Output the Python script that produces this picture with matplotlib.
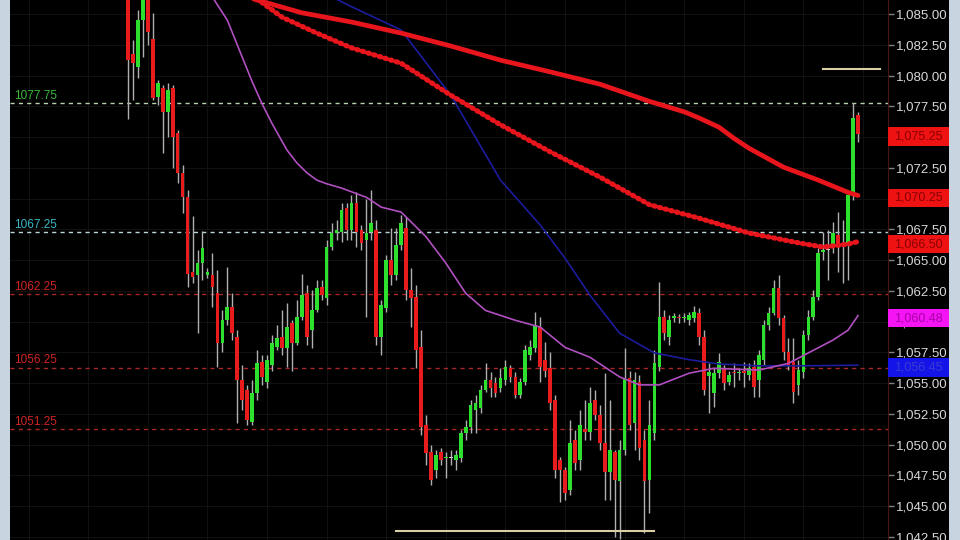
import matplotlib
matplotlib.use('Agg')
import matplotlib.pyplot as plt
import matplotlib.transforms as mtransforms
from matplotlib.patches import Rectangle
from matplotlib.ticker import FuncFormatter, MultipleLocator
import numpy as np

plt.rcParams['font.family'] = ['Liberation Sans', 'DejaVu Sans']

# candle data (one value per bar)
opens = [1087.75, 1081.75, 1080.7, 1084.5, 1086.5, 1083.0, 1078.25, 1079.0, 1077.0, 1079.0,
         1075.3, 1072.1, 1070.1, 1064.0, 1063.8, 1064.75, 1063.8, 1063.8, 1062.3, 1058.25,
         1060.1, 1061.2, 1058.75, 1055.25, 1054.4, 1051.8, 1054.2, 1056.7, 1055.1, 1056.5,
         1057.9, 1058.75, 1057.85, 1059.9, 1058.25, 1060.4, 1062.3, 1059.3, 1060.9, 1062.8,
         1061.9, 1066.05, 1067.2, 1067.3, 1069.25, 1067.45, 1069.65, 1067.45, 1066.6, 1067.3,
         1067.45, 1058.75, 1061.1, 1065.0, 1063.8, 1066.2, 1067.6, 1062.55, 1062.0, 1057.9,
         1051.6, 1049.4, 1047.9, 1049.4, 1048.9, 1048.9, 1048.75, 1048.9, 1050.9, 1051.4,
         1052.8, 1053.0, 1054.4, 1055.25, 1055.0, 1054.6, 1055.25, 1056.2, 1055.5, 1054.0,
         1055.1, 1057.3, 1057.85, 1059.55, 1056.9, 1056.2, 1053.6, 1048.75, 1047.9, 1046.3,
         1050.4, 1048.75, 1051.3, 1051.0, 1053.6, 1052.4, 1050.1, 1047.75, 1049.4, 1047.0,
         1049.55, 1055.4, 1051.75, 1055.1, 1050.4, 1047.1, 1050.9, 1056.3, 1060.35, 1058.75,
         1060.3, 1060.3, 1060.25, 1060.1, 1060.3, 1060.7, 1058.75, 1055.6, 1054.2, 1055.8,
         1056.2, 1055.1, 1055.9, 1055.8, 1055.9, 1055.65, 1056.3, 1055.25, 1056.9, 1059.7,
         1060.7, 1062.7, 1060.3, 1057.5, 1056.7, 1054.85, 1055.9, 1058.9, 1060.35, 1062.0,
         1065.65, 1065.8, 1066.2, 1067.0, 1066.4, 1066.4, 1070.3, 1076.8]
highs = [1089.5, 1082.9, 1085.3, 1087.75, 1087.75, 1085.1, 1079.6, 1079.2, 1079.4, 1079.2,
         1075.6, 1072.7, 1070.7, 1068.6, 1065.8, 1067.4, 1064.35, 1065.6, 1064.2, 1060.9,
         1064.4, 1062.3, 1059.3, 1056.5, 1054.85, 1055.25, 1057.7, 1057.3, 1057.3, 1058.9,
         1059.7, 1060.9, 1061.5, 1060.1, 1061.75, 1063.9, 1063.0, 1062.55, 1063.4, 1063.4,
         1066.6, 1068.0, 1068.25, 1069.65, 1069.65, 1070.3, 1070.5, 1067.85, 1070.0, 1070.7,
         1068.25, 1061.75, 1065.4, 1067.6, 1067.6, 1068.65, 1068.5, 1064.35, 1063.0, 1059.3,
         1052.4, 1050.0, 1049.55, 1049.7, 1049.4, 1049.55, 1049.55, 1051.2, 1052.0, 1053.6,
         1054.0, 1054.85, 1056.6, 1055.9, 1055.5, 1056.2, 1056.9, 1056.5, 1055.9, 1055.4,
         1058.1, 1058.5, 1060.8, 1060.35, 1058.3, 1057.5, 1054.0, 1049.0, 1048.2, 1052.0,
         1051.2, 1052.8, 1053.6, 1054.7, 1054.4, 1053.2, 1055.8, 1053.6, 1049.55, 1050.4,
         1057.85, 1056.0, 1055.9, 1055.65, 1051.2, 1053.6, 1057.7, 1063.2, 1060.9, 1060.5,
         1060.7, 1060.6, 1060.7, 1060.8, 1061.25, 1061.1, 1059.3, 1056.6, 1056.2, 1057.45,
         1056.5, 1056.0, 1056.6, 1056.2, 1056.7, 1056.6, 1056.9, 1057.7, 1060.1, 1061.2,
         1063.4, 1063.8, 1060.5, 1058.65, 1058.65, 1056.9, 1059.3, 1060.9, 1062.55, 1066.0,
         1067.3, 1067.45, 1068.1, 1068.9, 1068.25, 1070.7, 1077.75, 1077.0]
lows = [1076.5, 1078.0, 1079.8, 1081.5, 1082.5, 1078.0, 1077.6, 1073.7, 1075.0, 1072.5,
        1071.3, 1068.8, 1062.8, 1063.1, 1059.1, 1063.4, 1063.5, 1061.2, 1056.3, 1057.5,
        1059.7, 1058.5, 1051.75, 1052.8, 1051.6, 1051.6, 1053.6, 1054.85, 1054.6, 1056.0,
        1057.7, 1057.3, 1056.3, 1056.0, 1058.1, 1060.1, 1058.1, 1057.85, 1060.8, 1061.75,
        1061.35, 1065.8, 1066.6, 1066.5, 1066.6, 1066.6, 1066.05, 1065.8, 1060.35, 1066.6,
        1058.1, 1057.3, 1060.8, 1063.0, 1063.4, 1065.8, 1061.75, 1059.55, 1056.2, 1050.8,
        1048.3, 1046.7, 1047.3, 1048.35, 1047.3, 1048.35, 1047.9, 1048.6, 1050.4, 1050.9,
        1050.9, 1052.6, 1054.25, 1053.85, 1053.85, 1054.25, 1054.85, 1055.1, 1053.8, 1053.8,
        1054.85, 1056.9, 1057.5, 1055.1, 1055.5, 1052.8, 1047.3, 1045.3, 1045.5, 1045.9,
        1047.9, 1047.9, 1050.4, 1050.4, 1052.0, 1049.55, 1045.5, 1045.5, 1042.5, 1042.3,
        1049.15, 1051.2, 1049.55, 1048.75, 1042.8, 1044.4, 1050.4, 1056.0, 1058.5, 1058.1,
        1060.0, 1059.9, 1060.0, 1059.7, 1060.0, 1058.1, 1054.0, 1052.55, 1053.05, 1055.4,
        1054.4, 1054.85, 1054.7, 1055.25, 1054.7, 1055.25, 1053.85, 1053.85, 1056.5, 1059.3,
        1060.5, 1059.7, 1056.9, 1056.05, 1053.4, 1054.0, 1055.4, 1058.5, 1060.1, 1061.75,
        1065.0, 1063.4, 1065.55, 1064.0, 1063.1, 1063.4, 1069.9, 1074.6]
closes = [1081.25, 1081.0, 1084.5, 1086.5, 1083.5, 1078.2, 1079.4, 1077.0, 1078.8, 1075.0,
          1072.1, 1070.1, 1063.9, 1063.6, 1064.75, 1066.0, 1064.0, 1062.8, 1058.25, 1060.1,
          1061.2, 1059.1, 1055.25, 1053.6, 1052.0, 1054.2, 1056.6, 1055.5, 1056.9, 1058.25,
          1058.7, 1057.85, 1059.55, 1058.25, 1060.4, 1062.15, 1058.75, 1060.9, 1062.7, 1062.15,
          1066.05, 1067.2, 1067.45, 1069.1, 1067.45, 1069.65, 1067.3, 1066.4, 1067.2, 1068.0,
          1058.75, 1061.35, 1065.0, 1063.8, 1066.2, 1068.0, 1062.55, 1061.9, 1057.7, 1051.4,
          1049.3, 1047.1, 1049.15, 1048.75, 1049.0, 1048.9, 1049.15, 1050.9, 1051.4, 1053.2,
          1053.4, 1054.4, 1055.25, 1054.6, 1054.2, 1055.4, 1056.3, 1055.5, 1054.0, 1055.1,
          1057.7, 1057.9, 1059.7, 1056.3, 1056.0, 1053.4, 1047.9, 1047.9, 1046.05, 1050.1,
          1048.5, 1051.6, 1051.0, 1053.4, 1052.4, 1050.1, 1047.75, 1049.55, 1047.1, 1049.55,
          1055.4, 1051.6, 1055.25, 1049.7, 1047.0, 1051.6, 1056.6, 1060.35, 1059.05, 1060.1,
          1060.35, 1060.25, 1060.35, 1060.5, 1060.8, 1058.75, 1054.4, 1055.9, 1055.8, 1056.7,
          1055.0, 1055.65, 1055.8, 1055.9, 1055.85, 1056.2, 1054.7, 1057.3, 1059.7, 1060.7,
          1062.7, 1060.3, 1057.5, 1056.5, 1054.25, 1056.05, 1058.9, 1060.35, 1062.0, 1065.55,
          1065.8, 1065.8, 1067.2, 1066.4, 1066.2, 1070.3, 1076.55, 1075.25]

# moving averages (bar index, value)
slow_ma_x = [22, 35, 45, 55, 65, 75, 85, 95, 105, 112, 115, 119, 122, 125, 132, 139, 145, 147]
slow_ma = [1086.6, 1085.1, 1084.35, 1083.45, 1082.4, 1081.25, 1080.3, 1079.3, 1077.9,
           1077.05, 1076.55, 1075.8, 1074.9, 1074.1, 1072.55, 1071.5, 1070.5, 1070.25]
mid_ma_x = [24, 31, 38, 45, 55, 65, 75, 85, 95, 105, 115, 125, 135, 140, 145, 147]
mid_ma = [1086.8, 1084.75, 1083.45, 1082.25, 1081.0, 1078.4, 1076.0, 1073.8, 1071.75,
          1069.5, 1068.4, 1067.2, 1066.4, 1066.05, 1066.3, 1066.5]
blue_ma_x = [40, 45, 55, 65, 75, 83, 88, 93, 99, 106, 113, 119, 127, 135, 147]
blue_ma = [1086.6, 1085.6, 1083.7, 1078.4, 1071.5, 1067.85, 1065.15, 1062.15, 1059.05,
           1057.45, 1056.9, 1056.55, 1056.4, 1056.4, 1056.45]
fast_ma_x = [16, 20, 22, 25, 27, 29, 32, 34, 36, 38, 40, 43, 48, 51, 55, 60, 64, 68, 72,
             78, 83, 88, 93, 99, 103, 107, 113, 118, 127, 133, 137, 142, 145, 147]
fast_ma = [1087.0, 1084.5, 1082.5, 1079.5, 1077.7, 1076.1, 1073.95, 1072.9, 1072.1, 1071.5,
           1071.2, 1070.85, 1070.1, 1069.3, 1068.9, 1066.9, 1064.75, 1062.3, 1060.9,
           1060.1, 1059.55, 1057.9, 1057.1, 1055.5, 1054.85, 1054.85, 1055.8, 1056.2,
           1056.05, 1056.6, 1057.45, 1058.5, 1059.3, 1060.48]

# horizontal levels drawn on the chart
levels = [1077.75, 1067.25, 1062.25, 1056.25, 1051.25]
level_labels = ['1077.75', '1067.25', '1062.25', '1056.25', '1051.25']
level_line_colors = ['#b8d0b0', '#b8d4d8', '#a82828', '#a82828', '#a82828']
level_text_colors = ['#3cbc3c', '#3cb8c8', '#d02424', '#d02424', '#d02424']

# last value boxes on the price scale
box_values = [1075.25, 1070.25, 1066.50, 1060.48, 1056.45]
box_faces = ['#ee1212', '#ee1212', '#ee1212', '#f414f4', '#1414e8']
box_texts = ['#8c0000', '#8c0000', '#8c0000', '#a800a8', '#3a3ad0']

# manual trend lines (start bar, end bar, price)
seg_start = [140, 54]
seg_end = [151.4, 106]
seg_price = [1080.5, 1043.0]

fig = plt.figure(figsize=(9.6, 5.4), dpi=100, facecolor='black')
ax = fig.add_axes([10 / 960, 0, 878 / 960, 1], facecolor='black')

o = np.array(opens)
h = np.array(highs)
l = np.array(lows)
c = np.array(closes)
idx = np.arange(len(c))

ax.vlines(idx, l, h, color='#b0b0b0', lw=1, zorder=3)
colors = np.where(c > o, '#2ee02e', np.where(c < o, '#e81c1c', '#d0d0d0'))
ax.bar(idx, np.maximum(np.abs(c - o), 0.12), bottom=np.minimum(o, c), width=0.74,
       color=colors, linewidth=0, zorder=4)

blend = mtransforms.blended_transform_factory(ax.transAxes, ax.transData)
for p, lc, tc, lab in zip(levels, level_line_colors, level_text_colors, level_labels):
    ax.axhline(p, color=lc, lw=1, ls=(0, (3, 3)), zorder=2)
    ax.text(0.005, p + 0.35, lab, color=tc, fontsize=8.5, transform=blend)

ax.plot(blue_ma_x, blue_ma, color='#1c1c9c', lw=1.2, zorder=5)
ax.plot(fast_ma_x, fast_ma, color='#b050c0', lw=1.2, zorder=5)
ax.plot(slow_ma_x, slow_ma, color='#e8161c', lw=3.4, zorder=6, solid_capstyle='round',
        solid_joinstyle='round')
ax.plot(mid_ma_x, mid_ma, color='#e8161c', lw=3.7, ls=(0, (0.3, 0.85)),
        dash_capstyle='round', zorder=6)

for s, e, p in zip(seg_start, seg_end, seg_price):
    ax.plot([s, e], [p, p], color='#d8d0a4', lw=1.5, zorder=5)

ax.set_xlim(-23.76, 153.04)
ax.set_ylim(1042.24, 1086.14)

ax.yaxis.tick_right()
ax.yaxis.set_major_locator(MultipleLocator(2.5))
ax.yaxis.set_major_formatter(FuncFormatter(lambda v, pos: f'{v:,.2f}'))
ax.tick_params(axis='y', colors='#808080', labelcolor='#d8d8d8', labelsize=9.5,
               length=4, width=1, pad=2)
ax.set_xticks(np.arange(-20, 154, 12))
ax.tick_params(axis='x', length=0, labelbottom=False)
ax.grid(True, color='#121212', lw=0.7)
ax.set_axisbelow(True)
for side in ['top', 'left', 'bottom']:
    ax.spines[side].set_visible(False)
ax.spines['right'].set_color('#4a1414')

# value boxes sit on top of the price scale labels (drawn slightly below the value)
box_w = 61 / 878
for v, fc, tc in zip(box_values, box_faces, box_texts):
    ax.add_artist(Rectangle((1.0, v - 0.95), box_w, 1.5, transform=blend, facecolor=fc,
                            edgecolor='none', clip_on=False, zorder=8))
    ax.text(1.0 + box_w / 2, v - 0.2, f'{v:,.2f}', transform=blend, ha='center',
            va='center', color=tc, fontsize=9, zorder=9, clip_on=False)

# grey window frame strips on both sides
fig.patches.append(Rectangle((0, 0), 10 / 960, 1, transform=fig.transFigure,
                             facecolor='#c8d4e0', edgecolor='none'))
fig.patches.append(Rectangle((949 / 960, 0), 11 / 960, 1, transform=fig.transFigure,
                             facecolor='#c8d4e0', edgecolor='none'))

fig.savefig('out.png', dpi=100, facecolor='black')
